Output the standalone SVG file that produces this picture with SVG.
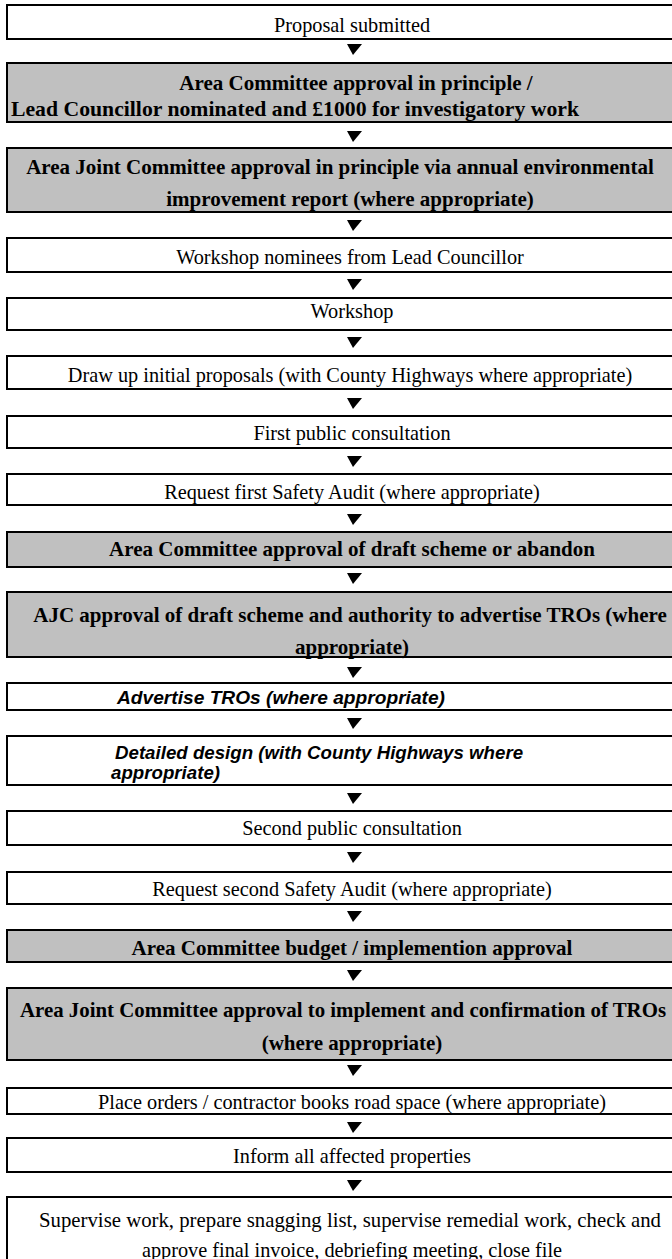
<svg xmlns="http://www.w3.org/2000/svg" width="672" height="1259" viewBox="0 0 672 1259">
<style>
.b{stroke:#000;stroke-width:2;fill:#fff}
.g{stroke:#000;stroke-width:2;fill:#c0c0c0}
.t{font-family:"Liberation Serif","Times New Roman",serif;font-size:20.3px;fill:#000;text-anchor:middle}
.tb{font-family:"Liberation Serif","Times New Roman",serif;font-size:21px;font-weight:bold;fill:#000;text-anchor:middle}
.ti{font-family:"Liberation Sans",Arial,sans-serif;font-size:18.7px;font-weight:bold;font-style:italic;fill:#000}
.a{fill:#000}
</style>
<rect x="0" y="0" width="672" height="1259" fill="#fff"/>
<g id="connectors">
<polygon class="a" points="347,44 362,44 353,55"/>
<polygon class="a" points="347,131 362,131 353,142"/>
<polygon class="a" points="347,220 362,220 353,231"/>
<polygon class="a" points="347,279 362,279 353,290"/>
<polygon class="a" points="347,337 362,337 353,348"/>
<polygon class="a" points="347,398 362,398 353,409"/>
<polygon class="a" points="347,456 362,456 353,467"/>
<polygon class="a" points="347,514 362,514 353,525"/>
<polygon class="a" points="347,573 362,573 353,584"/>
<polygon class="a" points="347,667 362,667 353,678"/>
<polygon class="a" points="347,718 362,718 353,729"/>
<polygon class="a" points="347,793 362,793 353,804"/>
<polygon class="a" points="347,852 362,852 353,863"/>
<polygon class="a" points="347,911 362,911 353,922"/>
<polygon class="a" points="347,970 362,970 353,981"/>
<polygon class="a" points="347,1065 362,1065 353,1076"/>
<polygon class="a" points="347,1122 362,1122 353,1133"/>
<polygon class="a" points="347,1180 362,1180 353,1191"/>
</g>
<g id="n1"><rect class="b" x="7" y="5" width="690" height="34"/><text class="t" x="352" y="32">Proposal submitted</text></g>
<g id="n2"><rect class="g" x="7" y="63" width="690" height="59"/><text class="tb" x="356" y="90">Area Committee approval in principle /</text><text class="tb" x="11" y="116" style="text-anchor:start" textLength="568" lengthAdjust="spacingAndGlyphs">Lead Councillor nominated and £1000 for investigatory work</text></g>
<g id="n3"><rect class="g" x="7" y="148" width="690" height="64"/><text class="tb" x="340" y="174">Area Joint Committee approval in principle via annual environmental</text><text class="tb" x="350" y="206">improvement report (where appropriate)</text></g>
<g id="n4"><rect class="b" x="7" y="238" width="690" height="34"/><text class="t" x="350" y="264">Workshop nominees from Lead Councillor</text></g>
<g id="n5"><rect class="b" x="7" y="298" width="690" height="32"/><text class="t" x="352" y="318">Workshop</text></g>
<g id="n6"><rect class="b" x="7" y="356" width="690" height="33"/><text class="t" x="350" y="382">Draw up initial proposals (with County Highways where appropriate)</text></g>
<g id="n7"><rect class="b" x="7" y="416" width="690" height="32"/><text class="t" x="352" y="440">First public consultation</text></g>
<g id="n8"><rect class="b" x="7" y="474" width="690" height="31"/><text class="t" x="352" y="499">Request first Safety Audit (where appropriate)</text></g>
<g id="n9"><rect class="g" x="7" y="532" width="690" height="35"/><text class="tb" x="352" y="556">Area Committee approval of draft scheme or abandon</text></g>
<g id="n10"><rect class="g" x="7" y="592" width="690" height="65"/><text class="tb" x="350" y="622">AJC approval of draft scheme and authority to advertise TROs (where</text><text class="tb" x="352" y="654">appropriate)</text></g>
<g id="n11"><rect class="b" x="7" y="683" width="690" height="27"/><text class="ti" x="117" y="704" textLength="328" lengthAdjust="spacingAndGlyphs">Advertise TROs (where appropriate)</text></g>
<g id="n12"><rect class="b" x="7" y="736" width="690" height="49"/><text class="ti" x="115" y="759">Detailed design (with County Highways where</text><text class="ti" x="111" y="779">appropriate)</text></g>
<g id="n13"><rect class="b" x="7" y="811" width="690" height="34"/><text class="t" x="352" y="835">Second public consultation</text></g>
<g id="n14"><rect class="b" x="7" y="872" width="690" height="32"/><text class="t" x="352" y="896">Request second Safety Audit (where appropriate)</text></g>
<g id="n15"><rect class="g" x="7" y="930" width="690" height="32"/><text class="tb" x="352" y="955">Area Committee budget / implemention approval</text></g>
<g id="n16"><rect class="g" x="7" y="988" width="690" height="72"/><text class="tb" x="343" y="1017" textLength="646" lengthAdjust="spacingAndGlyphs">Area Joint Committee approval to implement and confirmation of TROs</text><text class="tb" x="352" y="1050">(where appropriate)</text></g>
<g id="n17"><rect class="b" x="7" y="1088" width="690" height="26"/><text class="t" x="352" y="1109">Place orders / contractor books road space (where appropriate)</text></g>
<g id="n18"><rect class="b" x="7" y="1138" width="690" height="34"/><text class="t" x="352" y="1163">Inform all affected properties</text></g>
<g id="n19"><rect class="b" x="7" y="1197" width="690" height="80"/><text class="t" x="350" y="1227" textLength="622" lengthAdjust="spacingAndGlyphs">Supervise work, prepare snagging list, supervise remedial work, check and</text><text class="t" x="352" y="1257">approve final invoice, debriefing meeting, close file</text></g>
</svg>
